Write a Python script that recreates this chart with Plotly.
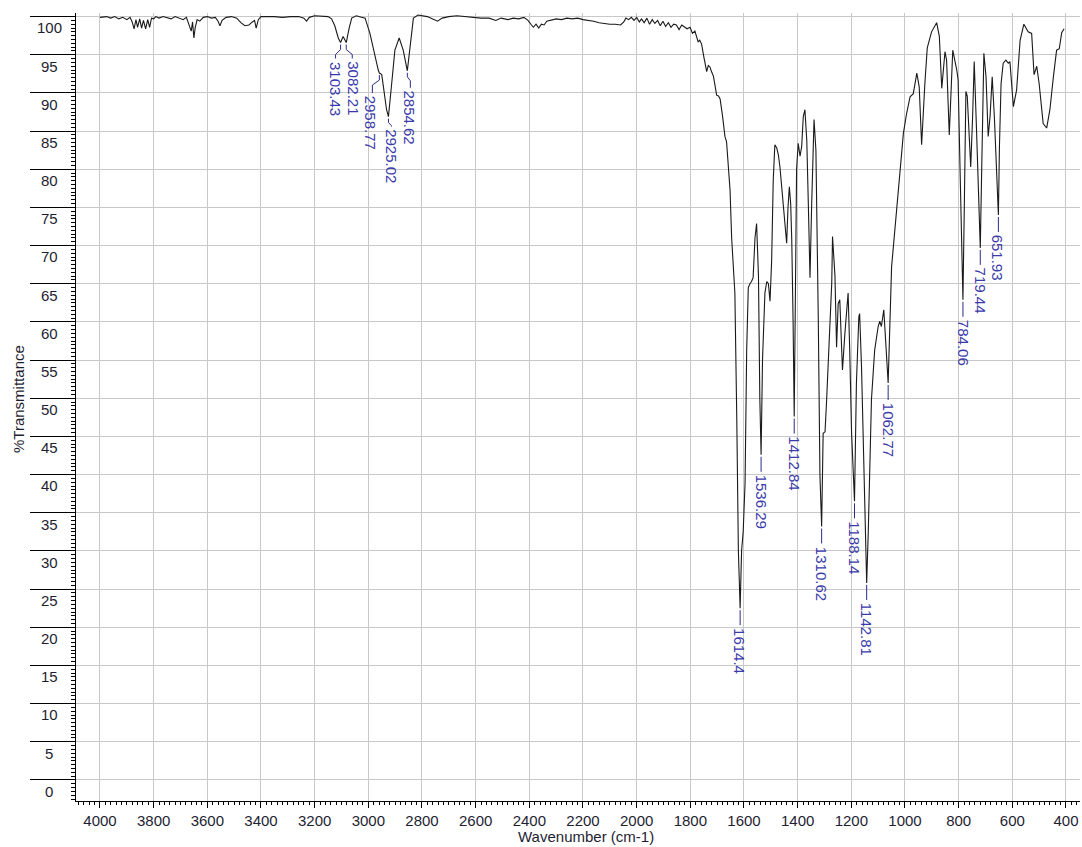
import plotly.graph_objects as go

# ---------------- data ----------------
wavenumber = [
    4000, 3975, 3960, 3945, 3930, 3915, 3900, 3888, 3880, 3873, 3866, 3860, 3852, 3845, 3838, 3830,
    3822, 3815, 3808, 3800, 3792, 3780, 3765, 3750, 3735, 3720, 3705, 3690, 3678, 3668, 3660, 3655,
    3650, 3645, 3638, 3628, 3615, 3600, 3585, 3570, 3560, 3553, 3545, 3530, 3510, 3490, 3475, 3460,
    3445, 3432, 3424, 3418, 3410, 3400, 3380, 3350, 3320, 3290, 3260, 3240, 3230, 3220, 3200, 3170,
    3150, 3137, 3125, 3112, 3103.43, 3094, 3082.21, 3072, 3062, 3045, 3030, 3012, 2994, 2975, 2963,
    2958.77, 2950, 2932, 2925.02, 2913, 2901, 2885, 2870, 2854.62, 2845, 2832, 2815, 2800,
    2780, 2760, 2742, 2725, 2700, 2670, 2640, 2610, 2580, 2550, 2525, 2505, 2480, 2460, 2440, 2420,
    2405, 2392, 2385, 2375, 2365, 2355, 2345, 2335, 2320, 2300, 2280, 2260, 2240, 2220, 2200, 2180,
    2160, 2140, 2120, 2100, 2080, 2060, 2048, 2040, 2030, 2020, 2010, 2000, 1990, 1982, 1972, 1962,
    1952, 1942, 1932, 1922, 1912, 1902, 1892, 1882, 1872, 1862, 1852, 1842, 1832, 1822, 1812, 1801,
    1792, 1783, 1775, 1771, 1765, 1758, 1750, 1739, 1733, 1727, 1720, 1714, 1708, 1702, 1695, 1689,
    1680, 1671, 1665, 1658, 1652, 1646, 1640, 1634, 1627, 1621, 1614.4, 1609, 1603, 1596, 1590, 1584,
    1578, 1572, 1566, 1559, 1553, 1546, 1541, 1536.29, 1531, 1522, 1515, 1509, 1503, 1497, 1491, 1485,
    1478, 1472, 1466, 1460, 1454, 1447, 1441, 1436, 1431, 1426, 1422, 1417, 1412.84, 1408, 1404, 1398,
    1391, 1385, 1379, 1373, 1366, 1360, 1354, 1348, 1342, 1339, 1332, 1327, 1323, 1317, 1310.62, 1305,
    1298, 1292, 1280, 1273, 1270, 1261, 1255, 1249, 1243, 1233, 1224, 1212, 1206, 1199, 1188.14, 1181,
    1172, 1169, 1162, 1152, 1142.81, 1137, 1125, 1113, 1100, 1094, 1088, 1079, 1069, 1062.77, 1050,
    1044, 1031, 1019, 1006, 994, 981, 969, 956, 947, 938, 926, 917, 901, 882, 872, 863, 851, 845, 835,
    822, 807, 802, 795, 784.06, 779, 773, 768, 760, 755, 748, 742, 733, 719.44, 714, 706, 698, 690,
    683, 675, 667, 651.93, 648, 642, 634, 624, 615, 609, 596, 584, 571, 557, 541, 528, 519, 509, 500,
    485, 472, 460, 447, 435, 425, 416, 407,
]
transmittance = [
    99.9, 100.0, 99.8, 100.0, 99.7, 99.9, 99.6, 99.9, 99.3, 98.4, 99.6, 98.6, 99.7, 98.5, 99.5, 98.4,
    99.6, 98.6, 99.8, 99.7, 100.0, 99.8, 100.0, 99.8, 99.7, 100.0, 99.8, 99.6, 99.9, 99.0, 98.1, 99.3,
    97.2, 98.6, 99.6, 99.4, 99.9, 100.0, 99.8, 99.9, 99.4, 98.8, 99.5, 99.9, 100.0, 99.8, 99.2, 98.8,
    98.9, 99.3, 99.5, 98.5, 99.6, 100.0, 100.0, 100.0, 99.9, 100.0, 100.0, 99.8, 99.4, 99.9, 100.1, 100.0,
    100.0, 99.7, 98.8, 97.2, 96.6, 97.4, 96.6, 98.4, 99.8, 100.1, 100.0, 99.8, 97.8, 94.7, 93.0,
    92.6, 92.4, 87.8, 86.9, 91.2, 95.6, 97.2, 95.6, 92.9, 95.6, 99.8, 100.2, 100.1,
    100.0, 99.7, 99.4, 99.8, 100.0, 100.1, 100.0, 99.9, 99.8, 99.8, 99.5, 99.8, 99.6, 99.8, 99.7, 99.9,
    99.5, 98.9, 98.6, 99.0, 98.5, 99.0, 98.9, 99.4, 99.5, 99.7, 99.6, 99.8, 99.7, 99.8, 99.6, 99.5,
    99.4, 99.2, 99.1, 99.0, 99.0, 98.9, 99.3, 99.8, 99.6, 99.9, 99.5, 99.9, 99.3, 99.7, 99.2, 99.8,
    99.0, 99.6, 99.1, 99.5, 98.8, 99.4, 98.7, 99.2, 98.6, 99.0, 98.9, 98.3, 98.9, 98.7, 98.4, 98.6,
    97.8, 98.1, 97.0, 96.7, 96.9, 96.4, 94.8, 92.8, 93.6, 93.4, 92.7, 92.2, 91.0, 89.7, 89.6, 89.2,
    87.0, 84.3, 83.6, 80.3, 77.3, 71.0, 66.4, 63.8, 47.6, 30.1, 22.5, 30.0, 32.5, 38.9, 56.3, 64.5,
    65.0, 65.3, 65.8, 71.0, 72.9, 66.0, 50.0, 42.6, 55.0, 63.8, 65.3, 65.0, 62.7, 68.0, 78.6, 83.2,
    82.8, 81.9, 80.3, 78.0, 75.1, 72.0, 70.3, 75.0, 77.7, 75.5, 70.7, 60.0, 47.6, 65.0, 80.0, 83.4,
    81.7, 83.0, 86.9, 87.8, 83.8, 75.1, 65.8, 75.1, 86.0, 86.5, 82.5, 70.7, 60.0, 40.0, 33.2, 45.4,
    45.6, 49.8, 58.5, 65.1, 71.2, 66.0, 56.7, 62.4, 62.9, 53.7, 58.5, 63.8, 56.3, 45.4, 36.5, 52.0,
    60.7, 61.1, 54.1, 40.0, 25.8, 32.3, 49.8, 56.3, 59.4, 60.1, 59.4, 61.6, 56.3, 52.0, 67.2,
    69.6, 74.1, 79.9, 84.7, 87.3, 89.5, 89.9, 92.6, 90.8, 83.2, 91.2, 95.9, 98.0, 99.2, 97.4, 90.6, 95.4, 94.3, 84.5,
    95.6, 93.0, 91.7, 80.3, 62.9, 75.0, 90.2, 89.6, 83.8, 80.3, 86.9, 94.1, 84.7, 69.7, 80.3, 95.2, 92.1, 84.3,
    86.9, 92.1, 86.9, 74.0, 83.0, 91.2, 93.9, 94.3, 93.9, 94.1, 88.2, 90.4, 96.9, 99.0, 98.0, 97.8, 92.4, 93.5, 91.2,
    86.0, 85.4, 87.8, 92.1, 95.6, 95.8, 97.9, 98.4,
]

peak_wn = [3103.43, 3082.21, 2958.77, 2925.02, 2854.62, 1614.4, 1536.29, 1412.84, 1310.62,
           1188.14, 1142.81, 1062.77, 784.06, 719.44, 651.93]
peak_T = [96.6, 96.6, 92.6, 86.9, 92.9, 22.5, 42.6, 47.6, 33.2,
          36.5, 25.8, 52.0, 62.9, 69.7, 74.0]
peak_text = ["3103.43", "3082.21", "2958.77", "2925.02", "2854.62", "1614.4", "1536.29", "1412.84",
             "1310.62", "1188.14", "1142.81", "1062.77", "784.06", "719.44", "651.93"]

y_ticks = list(range(0, 101, 5))
x_title = "Wavenumber (cm-1)"
y_title = "%Transmittance"

# ---------------- layout / style ----------------
W, H = 1082, 847
ML, MR, MT, MB = 76, 2, 13, 46
PW, PH = W - ML - MR, H - MT - MB
X_RANGE = [4089.4, 347.8]
Y_RANGE = [-2.76, 100.47]
px_per_wn = PW / (X_RANGE[0] - X_RANGE[1])
px_per_T = PH / (Y_RANGE[1] - Y_RANGE[0])

FONT = "Liberation Sans, Arial, sans-serif"
TXT = "#1e1e32"
BLUE_TXT = "#3a3aaa"
BLUE_LINE = "#2a2a8a"
GRID = "#c8c8c8"

# connector polylines (pixel offsets dx right, dy down) and text offsets per label
straight = dict(path=[(0, 2), (0, 17)], tx=0, ty=18)
label_style = [
    dict(path=[(0, 2), (0, 7), (-5, 12), (-5, 16)], tx=-5, ty=17),
    dict(path=[(0, 2), (0, 7), (6, 12), (6, 16)], tx=7, ty=17),
    dict(path=[(0, 2), (0, 7), (-7, 12), (-7, 20)], tx=-8, ty=21),
    dict(path=[(0, 2), (0, 6), (3, 9), (3, 10)], tx=3, ty=11),
    dict(path=[(0, 2), (0, 6), (3, 10), (3, 17)], tx=2, ty=18),
] + [straight] * 10

fig = go.Figure()
fig.add_trace(go.Scatter(x=wavenumber, y=transmittance, mode="lines",
                         line=dict(color="#1a1a1a", width=1.1), hoverinfo="skip",
                         showlegend=False))

# peak connectors
cx, cy = [], []
for w, t, st in zip(peak_wn, peak_T, label_style):
    for dx, dy in st["path"]:
        cx.append(w - dx / px_per_wn)
        cy.append(t - dy / px_per_T)
    cx.append(None)
    cy.append(None)
fig.add_trace(go.Scatter(x=cx, y=cy, mode="lines", line=dict(color=BLUE_LINE, width=1),
                         hoverinfo="skip", showlegend=False))

annotations = []
for w, t, txt, st in zip(peak_wn, peak_T, peak_text, label_style):
    annotations.append(dict(x=w, y=t, xref="x", yref="y", text=txt, showarrow=False,
                            textangle=90, xanchor="center", yanchor="top",
                            xshift=st["tx"], yshift=-st["ty"],
                            font=dict(family=FONT, size=15, color=BLUE_TXT)))

# y tick labels (drawn below each major tick line as in the reference)
for v in y_ticks:
    annotations.append(dict(x=(49 - ML) / PW, y=v - 11.3 / px_per_T, xref="paper", yref="y",
                            text=str(v), showarrow=False, xanchor="center", yanchor="middle",
                            font=dict(family=FONT, size=15, color=TXT)))

annotations.append(dict(x=(586 - ML) / PW, y=(MT + PH - 836) / PH, xref="paper", yref="paper",
                        text=x_title, showarrow=False, xanchor="center", yanchor="middle",
                        font=dict(family=FONT, size=15, color=TXT)))
annotations.append(dict(x=(18 - ML) / PW, y=(MT + PH - 399) / PH, xref="paper", yref="paper",
                        text=y_title, showarrow=False, textangle=-90, xanchor="center",
                        yanchor="middle", font=dict(family=FONT, size=15, color=TXT)))

fig.update_layout(
    width=W, height=H,
    margin=dict(l=ML, r=MR, t=MT, b=MB, pad=0),
    paper_bgcolor="white", plot_bgcolor="white",
    showlegend=False,
    annotations=annotations,
    xaxis=dict(range=X_RANGE, tick0=0, dtick=200, showgrid=True, gridcolor=GRID, gridwidth=1,
               zeroline=False, showline=True, linecolor="black", linewidth=1,
               ticks="outside", ticklen=6, tickcolor="black", tickwidth=1,
               minor=dict(tick0=0, dtick=20, ticks="outside", ticklen=3, tickcolor="black",
                          showgrid=False),
               tickfont=dict(family=FONT, size=15, color=TXT)),
    yaxis=dict(range=Y_RANGE, tick0=0, dtick=5, showgrid=True, gridcolor=GRID, gridwidth=1,
               zeroline=False, showline=True, linecolor="black", linewidth=1,
               ticks="outside", ticklen=45, tickcolor="black", tickwidth=1,
               showticklabels=False,
               minor=dict(tick0=0, dtick=0.5, ticks="outside", ticklen=4, tickcolor="black",
                          showgrid=False)),
)

fig.write_html("out.html", config={"displayModeBar": False},
               post_script="document.body.style.margin='0px';"
                           "document.body.style.overflow='hidden';")
